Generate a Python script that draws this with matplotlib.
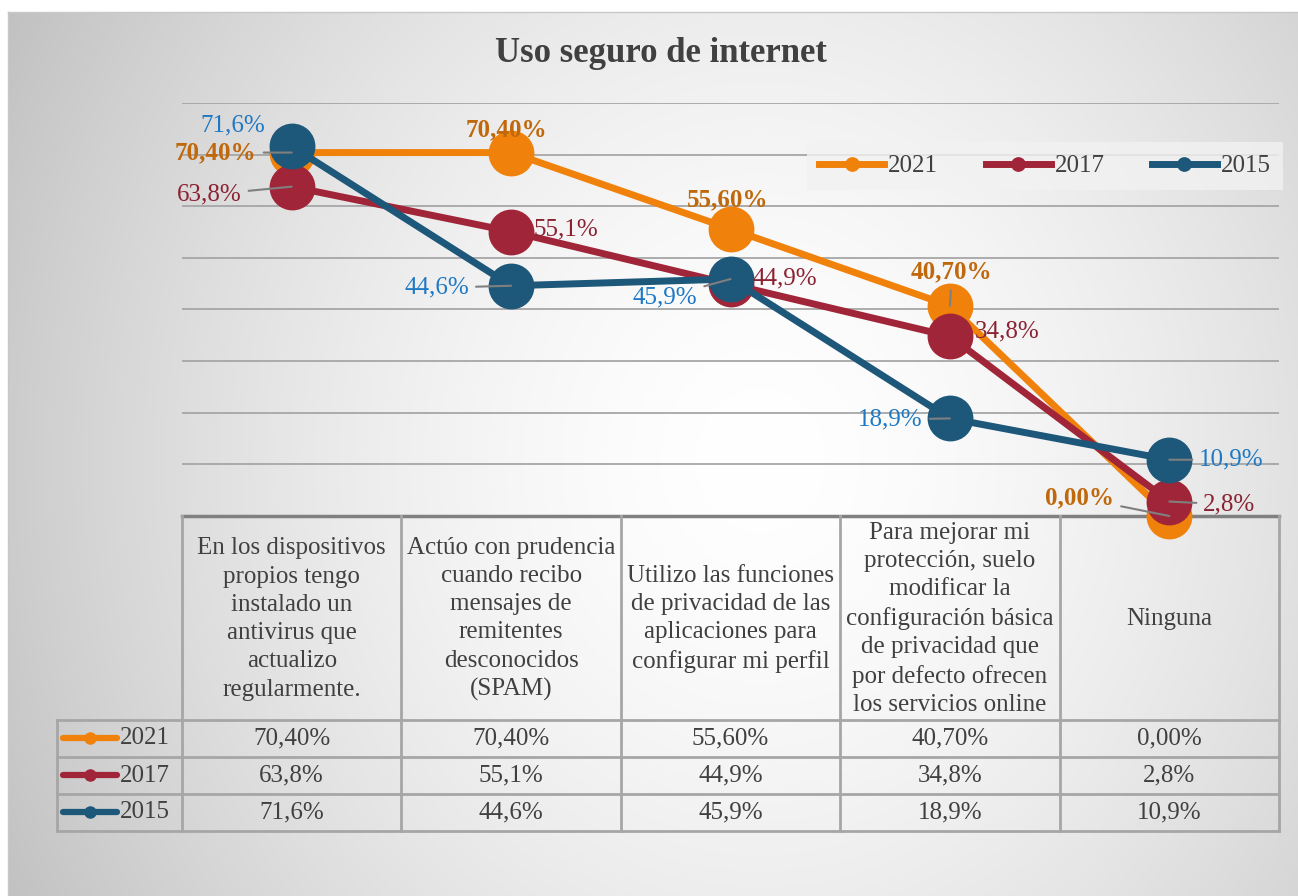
import matplotlib.pyplot as plt
import numpy as np

# datos
categorias = [
    "En los dispositivos\npropios tengo\ninstalado un\nantivirus que\nactualizo\nregularmente.",
    "Actúo con prudencia\ncuando recibo\nmensajes de\nremitentes\ndesconocidos\n(SPAM)",
    "Utilizo las funciones\nde privacidad de las\naplicaciones para\nconfigurar mi perfil",
    "Para mejorar mi\nprotección, suelo\nmodificar la\nconfiguración básica\nde privacidad que\npor defecto ofrecen\nlos servicios online",
    "Ninguna",
]
anios = ["2021", "2017", "2015"]
v2021 = [70.40, 70.40, 55.60, 40.70, 0.00]
v2017 = [63.8, 55.1, 44.9, 34.8, 2.8]
v2015 = [71.6, 44.6, 45.9, 18.9, 10.9]
txt2021 = ["70,40%", "70,40%", "55,60%", "40,70%", "0,00%"]
txt2017 = ["63,8%", "55,1%", "44,9%", "34,8%", "2,8%"]
txt2015 = ["71,6%", "44,6%", "45,9%", "18,9%", "10,9%"]

series = [v2021, v2017, v2015]
textos = [txt2021, txt2017, txt2015]
colores = ["#F0820C", "#A12538", "#1D5779"]
col_etq = ["#C0680C", "#8A2232", "#1E78C4"]

FUENTE = "Liberation Serif"
GRIS = "#404040"
TAM = 18
W, H = 1298, 896

fig = plt.figure(figsize=(W / 100, H / 100), dpi=100)

# fondo con degradado (eje en pixeles)
bg = fig.add_axes([0, 0, 1, 1])
bg.set_xlim(0, W)
bg.set_ylim(H, 0)
bg.axis("off")
xx, yy = np.meshgrid(np.arange(8, W), np.arange(12, H))
d = np.sqrt(((xx - 760) / 800.0) ** 2 + ((yy - 460) / 900.0) ** 2)
val = 1.0 - 0.22 * np.clip(d, 0, 1.3) ** 1.6
img = np.dstack([val, val, val])
bg.imshow(img, extent=(8, W, H, 12), aspect="auto", interpolation="bilinear")
bg.plot([8, W], [12, 12], color="#c8c8c8", lw=1)
bg.plot([8, 8], [12, H], color="#c8c8c8", lw=1)

bg.text(661, 53, "Uso seguro de internet", ha="center", va="center",
        fontsize=25, fontweight="bold", color=GRIS, family=FUENTE)

# area del grafico
x0, x1, ytop, ybot = 182, 1279, 103, 516
ax = fig.add_axes([x0 / W, 1 - ybot / H, (x1 - x0) / W, (ybot - ytop) / H])
ax.set_facecolor("none")
ax.set_xlim(-0.5, len(categorias) - 0.5)
ax.set_ylim(0, 80)
ax.set_yticks(np.arange(10, 81, 10))
ax.yaxis.grid(True, color="#a6a6a6", lw=1.3)
ax.tick_params(left=False, bottom=False, labelleft=False, labelbottom=False)
for s in ax.spines.values():
    s.set_visible(False)

xs = np.arange(len(categorias))
lineas = []
for i, (vals, c) in enumerate(zip(series, colores)):
    (ln,) = ax.plot(xs, vals, color=c, lw=5, marker="o", ms=32, mfc=c, mec=c,
                    clip_on=False, zorder=3 + i)
    lineas.append(ln)

# etiquetas de datos: desplazamiento en pixeles y si llevan linea guia
despl = [
    [(-35, 0, "right", True), (-5, 23, "center", False), (-3, 29, "center", False),
     (2, 34, "center", True), (-55, 18, "right", True)],
    [(-50, -8, "right", True), (22, 2, "left", False), (22, 6, "left", False),
     (25, 5, "left", False), (34, -3, "left", True)],
    [(-27, 21, "right", False), (-42, -2, "right", True), (-33, -18, "right", True),
     (-27, -1, "right", True), (30, 0, "left", True)],
]
for i in range(3):
    for j in range(len(categorias)):
        dx, dy, ha, guia = despl[i][j]
        ap = None
        if guia:
            ap = dict(arrowstyle="-", color="#7f7f7f", lw=1.5, shrinkA=3, shrinkB=0)
        ax.annotate(textos[i][j], (xs[j], series[i][j]), xytext=(dx * 0.72, dy * 0.72),
                    textcoords="offset points", ha=ha, va="center",
                    fontsize=TAM, family=FUENTE, color=col_etq[i],
                    fontweight="bold" if i == 0 else "normal",
                    arrowprops=ap, zorder=10, annotation_clip=False)

# leyenda
ax.legend(lineas, anios, loc="center", bbox_to_anchor=(1045 / W, 1 - 166 / H),
          bbox_transform=fig.transFigure, ncol=3, frameon=True, fancybox=False,
          facecolor="#f2f2f2", edgecolor="none", framealpha=0.8,
          prop={"family": FUENTE, "size": TAM}, markerscale=0.3, handlelength=2.6,
          handletextpad=0.15, columnspacing=1.9, borderpad=0.5, labelcolor=GRIS)

# tabla de datos
bordes = [x0 + k * (x1 - x0) / len(categorias) for k in range(len(categorias) + 1)]
centros = [(bordes[k] + bordes[k + 1]) / 2 for k in range(len(categorias))]
ylin = "#a6a6a6"
yh0 = 516
filas = [720, 757, 794, 831]
bg.plot([x0, x1], [yh0, yh0], color="#808080", lw=2.5, zorder=2)
for b in bordes:
    bg.plot([b, b], [yh0, filas[-1]], color=ylin, lw=2, zorder=2)
for f in filas:
    bg.plot([57, x1], [f, f], color=ylin, lw=2, zorder=2)
bg.plot([57, 57], [filas[0], filas[-1]], color=ylin, lw=2, zorder=2)

for k, cat in enumerate(categorias):
    bg.text(centros[k], 619, cat, ha="center", va="center", fontsize=TAM,
            family=FUENTE, color=GRIS, linespacing=1.37)

for i in range(3):
    yc = (filas[i] + filas[i + 1]) / 2
    bg.plot([63, 117], [yc, yc], color=colores[i], lw=4.5, solid_capstyle="round")
    bg.plot([90], [yc], marker="o", ms=8, color=colores[i])
    bg.text(120, yc, anios[i], ha="left", va="center", fontsize=TAM,
            family=FUENTE, color=GRIS)
    for k in range(len(categorias)):
        bg.text(centros[k], yc, textos[i][k], ha="center", va="center",
                fontsize=TAM, family=FUENTE, color=GRIS)

fig.savefig("out.png", dpi=100)
